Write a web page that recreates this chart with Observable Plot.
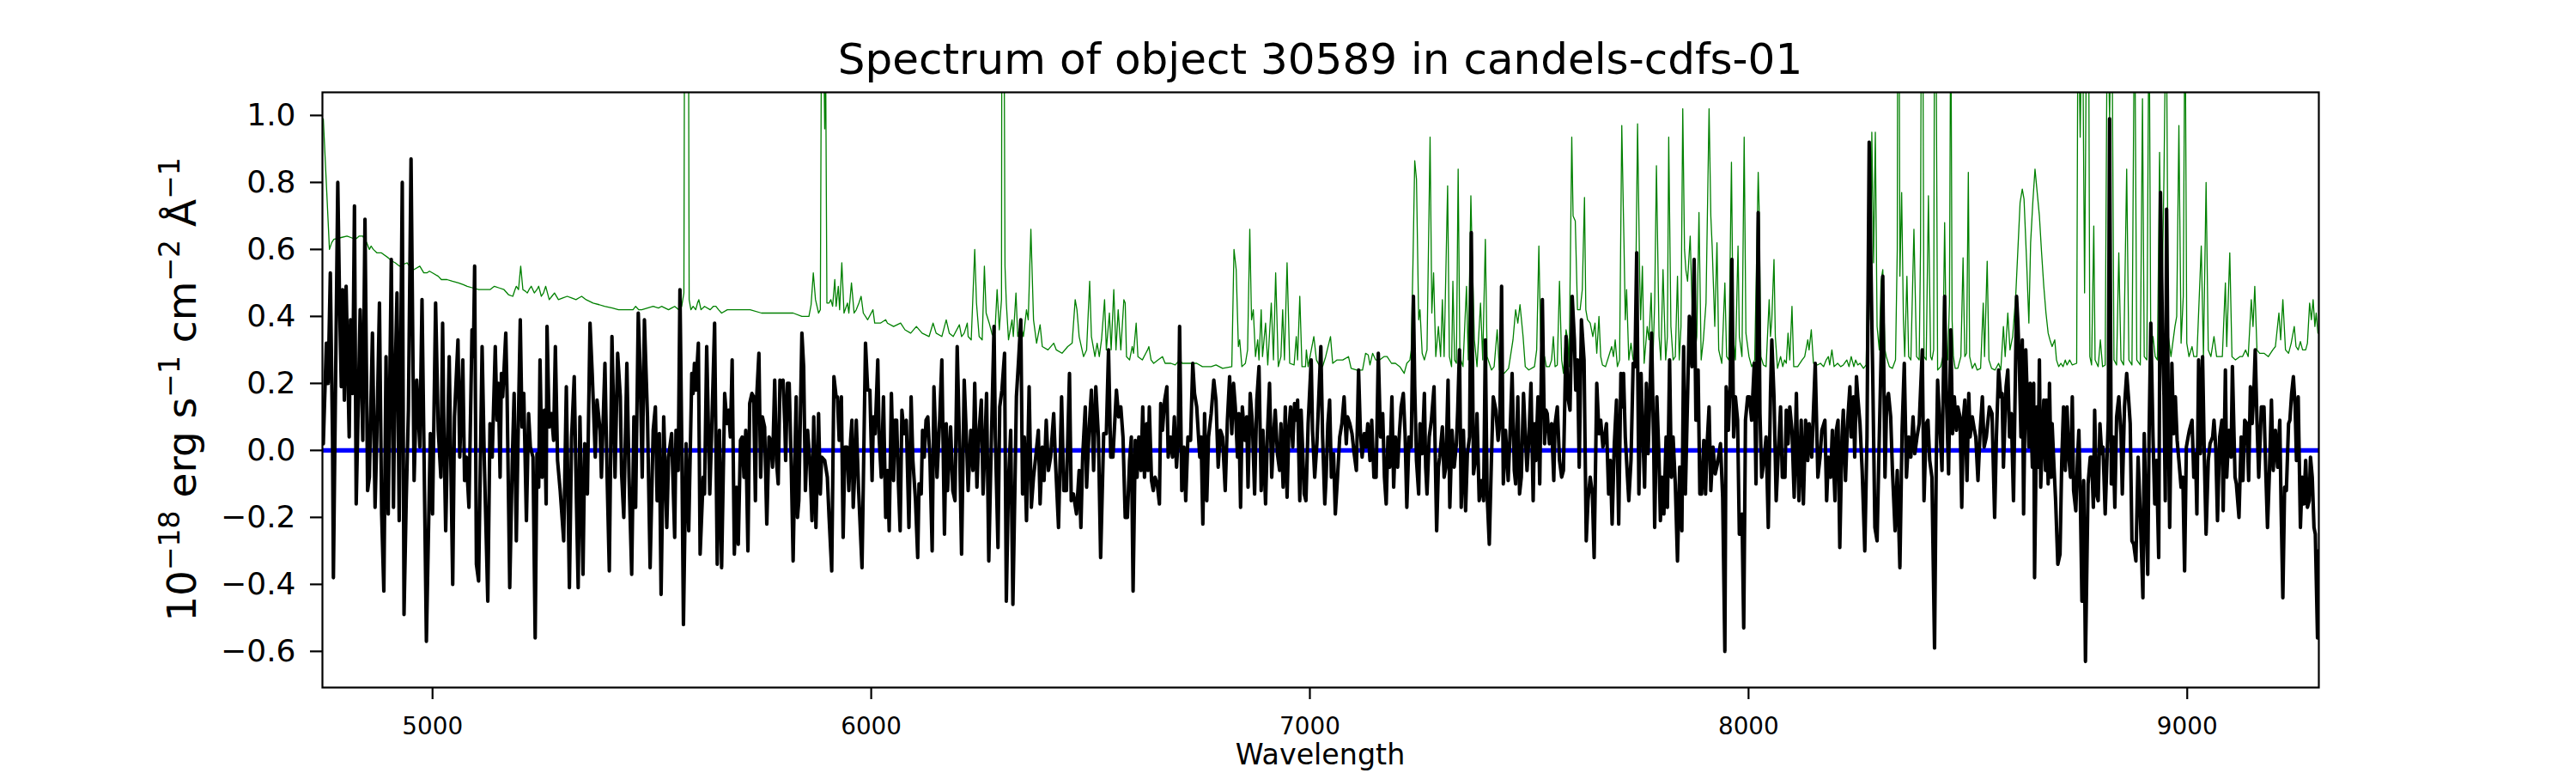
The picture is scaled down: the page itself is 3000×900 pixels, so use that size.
<!DOCTYPE html>
<html><head><meta charset="utf-8">
<script src="https://cdn.jsdelivr.net/npm/d3@7"></script>
<script src="https://cdn.jsdelivr.net/npm/@observablehq/plot@0.6"></script>
<style>html,body{margin:0;padding:0;background:#fff;}</style>
</head><body><div id="chart"></div>
<script>
// Science spectrum (black), [wavelength Å, flux 1e-18]
const sciSeg1 = [[4751,0.02],[4758,0.32],[4762,0.20],[4767,0.53],[4772,0.04],[4774,-0.38],[4784,0.80],[4788,0.45],[4792,0.19],[4795,0.48],[4799,0.15],[4803,0.49],[4810,0.04],[4813,0.39],[4818,0.17],[4822,0.73],[4826,-0.16],[4831,0.16],[4835,0.42],[4841,0.03],[4846,0.69],[4852,-0.12],[4856,-0.08],[4863,0.35],[4869,-0.17],[4873,0.04],[4879,0.44],[4884,-0.19],[4889,-0.42],[4894,0.28],[4899,-0.19],[4906,0.57],[4911,-0.17],[4914,0.17],[4919,0.47],[4924,-0.21],[4931,0.80],[4935,-0.49],[4940,-0.15],[4945,0.12],[4951,0.87],[4958,-0.09],[4964,0.21],[4971,0.01],[4976,0.45],[4981,-0.05],[4986,-0.57],[4995,0.05],[5000,-0.19],[5007,0.44],[5013,0.06],[5019,-0.08],[5023,0.38],[5026,0.05],[5030,-0.24],[5038,0.28],[5046,-0.40],[5050,0.10],[5058,0.33],[5062,-0.02],[5069,0.27],[5073,-0.09],[5077,-0.02],[5083,-0.17],[5090,0.36],[5093,0.28],[5096,0.55],[5100,-0.34],[5105,-0.39],[5113,0.31],[5118,-0.03],[5126,-0.45],[5131,0.08],[5136,-0.02],[5143,0.31],[5147,0.09],[5150,0.20],[5154,-0.08],[5157,0.23],[5160,0.16],[5167,0.35],[5170,0.16],[5176,-0.41],[5182,-0.02],[5186,0.17],[5191,-0.27],[5195,0.04],[5200,0.39],[5204,0.07],[5208,0.17],[5214,-0.21],[5219,0.11],[5223,0.01],[5229,-0.02],[5234,-0.56],[5238,-0.01],[5242,-0.11],[5245,0.27],[5250,-0.08],[5255,0.12],[5259,-0.16],[5261,0.37],[5266,0.07],[5271,0.11],[5276,0.03],[5280,0.31],[5285,-0.03],[5291,-0.12],[5299,-0.27],[5305,0.19],[5312,-0.41],[5317,0.04],[5323,0.22],[5328,-0.15],[5332,-0.41],[5336,0.10],[5343,-0.37],[5347,0.02],[5353,-0.13],[5359,0.38],[5364,0.23],[5371,-0.02],[5375,0.15],[5382,0.06],[5385,-0.08],[5393,0.26],[5398,-0.08],[5403,-0.36],[5409,0.34],[5416,-0.08],[5422,0.29],[5428,0.16],[5431,-0.07],[5436,-0.20],[5443,0.26],[5448,-0.08],[5454,-0.37],[5459,0.10],[5463,-0.17],[5469,0.41],[5473,0.25],[5478,-0.08],[5483,0.39],[5490,0.10],[5496,-0.35],[5503,0.06],[5508,0.13],[5512,-0.15],[5517,0.05],[5521,-0.43],[5527,0.10],[5534,-0.23],[5538,-0.02],[5545,0.05],[5552,-0.26],[5555,0.06],[5560,-0.06],[5564,0.48],[5568,0.04],[5572,-0.52],[5578,0.02],[5584,-0.24],[5591,0.23],[5594,0.17],[5597,0.26],[5600,0.18],[5606,0.32],[5610,-0.31],[5617,-0.08],[5620,-0.13],[5625,0.31],[5632,-0.13],[5636,0.04],[5643,0.38],[5649,-0.34],[5654,0.06],[5659,-0.35]];
const sciSeg2 = [[5666,0.17],[5671,0.08],[5675,0.12],[5679,0.04],[5683,0.27],[5688,-0.31],[5693,-0.11],[5697,-0.28],[5702,0.03],[5706,0.04],[5710,-0.08],[5714,0.06],[5719,-0.30],[5723,0.14],[5728,0.17],[5732,0.16],[5736,-0.15],[5739,0.16],[5744,0.29],[5748,-0.08],[5752,0.10],[5757,0.07],[5762,-0.22],[5767,0.04],[5771,0.03],[5775,-0.05],[5780,0.21],[5784,-0.03],[5788,-0.10],[5792,0.21],[5796,0.19],[5799,0.21],[5803,0.08],[5805,-0.03],[5809,0.20],[5813,0.20],[5818,-0.06],[5822,-0.33],[5827,0.04],[5829,0.16],[5832,-0.20],[5835,-0.15],[5842,0.35],[5846,0.25],[5850,-0.12],[5855,0.06],[5860,-0.03],[5865,-0.21],[5869,0.10],[5874,-0.23],[5880,0.11],[5884,-0.13],[5887,-0.02],[5894,-0.03],[5900,-0.08],[5904,-0.20],[5910,-0.36],[5915,0.22],[5920,0.16],[5923,0.16],[5927,0.03],[5932,0.16],[5936,-0.26],[5940,0.01],[5945,0.01],[5949,-0.12],[5953,0.03],[5956,0.09],[5959,-0.17],[5962,-0.08],[5966,0.09],[5971,-0.11],[5979,-0.35],[5987,0.32],[5992,0.18],[5997,0.18],[6002,-0.09],[6005,0.10],[6009,0.05],[6015,0.27],[6018,0.04],[6023,-0.08],[6028,0.16],[6033,-0.20],[6037,-0.06],[6041,-0.24],[6046,0.17],[6051,-0.09],[6054,0.09],[6058,0.09],[6062,-0.10],[6066,-0.24],[6070,0.12],[6075,0.05],[6080,0.09],[6086,-0.23],[6091,0.16],[6095,-0.03],[6101,-0.15],[6106,-0.32],[6109,-0.10],[6114,-0.13],[6117,0.06],[6121,-0.02],[6125,0.09],[6129,0.10],[6134,-0.03],[6139,-0.30],[6143,0.19],[6147,0.04],[6150,-0.08],[6156,0.09],[6161,0.27],[6167,-0.25],[6171,0.08],[6174,-0.12],[6181,0.07],[6186,-0.12],[6191,-0.15],[6196,0.31],[6202,-0.02],[6206,-0.31],[6212,0.21],[6217,0.04],[6221,-0.12],[6227,0.06],[6232,-0.06],[6236,0.20],[6241,-0.11],[6245,0.04],[6251,0.15],[6255,-0.13],[6259,0.01],[6263,0.17],[6268,-0.33],[6272,-0.08],[6280,0.37],[6283,0.04],[6289,-0.29],[6293,0.13],[6298,0.18],[6304,0.29],[6308,-0.45],[6313,-0.09],[6318,0.06],[6323,-0.46],[6328,-0.08],[6331,0.16],[6336,0.27],[6341,0.39],[6345,-0.13],[6349,0.04],[6354,-0.21],[6360,0.19],[6365,-0.17],[6370,-0.08],[6375,-0.02],[6381,0.06],[6385,-0.16],[6390,0.01],[6394,-0.09],[6399,0.09],[6404,-0.06],[6409,-0.02],[6416,0.11],[6420,-0.03],[6427,-0.23],[6434,0.16],[6439,-0.12],[6445,-0.12],[6452,0.23],[6456,-0.15],[6461,-0.13],[6468,-0.19],[6474,-0.06],[6478,-0.23],[6482,-0.02],[6488,0.13],[6491,-0.11],[6497,0.07],[6502,0.18],[6507,-0.06],[6512,0.19],[6518,0.04],[6523,-0.32],[6530,0.05],[6536,0.05],[6541,0.30],[6546,-0.02],[6551,-0.02],[6559,0.18],[6564,0.10],[6569,0.13],[6574,0.04],[6579,-0.20]];
const sciSeg3 = [[6584,-0.20],[6589,-0.03],[6593,0.04],[6597,-0.42],[6602,0.03],[6606,-0.08],[6610,0.04],[6615,-0.06],[6619,0.13],[6623,-0.08],[6628,0.08],[6631,-0.06],[6634,0.13],[6639,-0.09],[6643,-0.12],[6647,-0.08],[6652,-0.10],[6657,-0.16],[6660,0.14],[6664,0.06],[6669,0.15],[6674,0.19],[6677,-0.02],[6682,0.04],[6687,-0.02],[6691,0.10],[6696,-0.05],[6700,0.04],[6703,0.37],[6708,-0.12],[6713,0.01],[6717,-0.15],[6722,0.04],[6728,0.03],[6733,0.26],[6737,0.17],[6742,0.13],[6749,-0.02],[6752,0.04],[6756,-0.22],[6760,0.11],[6765,-0.15],[6769,0.04],[6775,0.11],[6781,0.21],[6786,0.15],[6791,-0.05],[6796,0.06],[6801,0.04],[6807,-0.12],[6812,0.09],[6817,0.22],[6822,0.05],[6826,0.20],[6830,0.13],[6835,-0.02],[6838,0.11],[6842,-0.17],[6846,0.13],[6852,0.03],[6856,0.10],[6859,-0.11],[6864,0.17],[6869,0.08],[6874,-0.13],[6879,0.15],[6884,0.25],[6889,-0.12],[6893,0.06],[6899,-0.16],[6903,0.04],[6908,0.20],[6913,-0.08],[6917,0.04],[6921,0.12],[6926,-0.01],[6931,-0.06],[6934,0.08],[6939,-0.11],[6944,0.13],[6948,-0.14],[6952,0.06],[6956,0.13],[6961,0.01],[6965,0.14],[6969,0.09],[6972,0.15],[6977,-0.15],[6980,0.12],[6983,0.02],[6987,-0.13],[6991,-0.15],[6996,0.08],[7003,0.27],[7006,0.06],[7011,-0.08],[7016,0.02],[7020,0.15],[7025,0.31],[7029,0.04],[7034,-0.16],[7037,-0.08],[7041,0.08],[7045,0.15],[7049,-0.08],[7054,-0.01],[7058,-0.19],[7063,-0.08],[7068,0.04],[7073,0.08],[7078,0.16],[7083,0.02],[7086,0.10],[7091,0.08],[7096,0.05],[7101,-0.01],[7106,-0.06],[7111,0.24],[7115,0.06],[7119,-0.02],[7124,0.05],[7128,0.01],[7132,0.08],[7137,-0.03],[7141,0.09],[7146,-0.08],[7151,-0.08],[7156,0.29],[7161,0.04],[7166,0.11],[7170,-0.08],[7174,-0.16],[7178,0.04],[7182,-0.05],[7187,0.16],[7191,-0.11],[7195,0.04],[7200,-0.05],[7204,0.05],[7208,0.13],[7213,0.17],[7217,0.05],[7221,-0.17],[7226,0.04],[7231,0.01],[7236,0.46],[7239,0.19],[7243,-0.03],[7248,-0.13],[7251,0.08],[7256,-0.01],[7261,0.17],[7264,-0.05],[7267,-0.13],[7272,0.04],[7277,0.09],[7283,0.19],[7289,-0.24],[7293,-0.05],[7296,-0.02],[7302,0.07],[7306,-0.08],[7310,-0.05],[7315,0.21],[7319,-0.17],[7324,0.06],[7329,-0.05],[7334,0.02],[7337,0.12],[7341,0.30],[7345,-0.17],[7350,0.06],[7355,-0.18],[7359,-0.01],[7364,0.04],[7368,0.65],[7373,-0.07],[7378,-0.02],[7381,0.11],[7386,-0.15],[7391,-0.09],[7396,-0.15],[7400,0.33],[7404,-0.13],[7409,-0.28],[7414,-0.02],[7418,0.16],[7424,0.12],[7429,0.03],[7433,0.08],[7437,0.49],[7441,-0.10],[7446,0.06],[7452,-0.09],[7456,0.04],[7461,0.23],[7466,-0.06],[7469,-0.10],[7474,0.16],[7478,-0.13],[7482,-0.08],[7487,0.17],[7492,0.02],[7495,-0.06],[7499,0.03]];
const sciSeg4 = [[7504,0.20],[7509,-0.15],[7512,0.08],[7515,-0.03],[7520,0.16],[7524,-0.10],[7527,0.18],[7530,0.45],[7535,0.02],[7538,0.12],[7541,0.11],[7546,0.02],[7551,0.08],[7556,-0.09],[7559,0.08],[7564,0.13],[7569,-0.03],[7574,-0.08],[7578,-0.06],[7584,0.34],[7588,0.16],[7593,0.12],[7598,0.46],[7603,0.33],[7606,0.18],[7610,0.27],[7614,-0.05],[7619,0.39],[7625,0.27],[7630,-0.27],[7634,-0.15],[7639,-0.08],[7644,-0.13],[7648,-0.32],[7654,0.20],[7659,0.05],[7663,0.09],[7668,0.01],[7672,0.04],[7676,0.08],[7681,-0.13],[7685,-0.03],[7689,-0.22],[7694,0.02],[7699,0.15],[7704,-0.22],[7709,0.23],[7713,0.13],[7715,0.23],[7719,0.04],[7724,-0.08],[7727,-0.15],[7732,-0.03],[7737,0.26],[7741,0.25],[7745,0.59],[7750,-0.13],[7755,0.23],[7758,0.09],[7763,-0.11],[7767,0.20],[7771,-0.01],[7775,0.16],[7779,0.35],[7784,-0.01],[7786,-0.23],[7791,0.16],[7796,-0.03],[7799,-0.21],[7803,-0.08],[7807,-0.19],[7812,0.04],[7815,-0.17],[7820,0.27],[7824,-0.08],[7828,0.04],[7833,-0.10],[7838,-0.33],[7843,-0.05],[7848,-0.24],[7852,0.31],[7856,-0.13],[7861,0.16],[7865,0.40],[7871,0.25],[7876,0.57],[7880,0.09],[7885,0.24],[7889,-0.13],[7893,-0.13],[7898,0.03],[7902,-0.13],[7906,0.03],[7910,0.13],[7914,-0.12],[7919,0.01],[7924,-0.07],[7929,-0.04],[7936,0.02],[7941,-0.14],[7946,-0.60],[7949,0.19],[7954,0.06],[7958,0.19],[7962,0.57],[7966,0.04],[7970,0.16],[7975,0.09],[7979,-0.25],[7985,-0.19],[7989,-0.53],[7993,0.09],[7998,0.16],[8002,0.16],[8007,0.09],[8013,0.26],[8017,-0.10],[8022,0.71],[8026,0.11],[8030,-0.08],[8035,-0.03],[8040,0.04],[8045,-0.23],[8050,0.17],[8053,0.33],[8058,0.16],[8063,-0.15],[8067,-0.03],[8073,0.13],[8077,-0.08],[8083,-0.08],[8086,0.12],[8090,0.02],[8094,0.13],[8099,0.06],[8104,-0.14],[8109,0.17],[8112,-0.03],[8115,-0.15],[8120,0.09],[8125,-0.16],[8130,0.09],[8135,-0.03],[8138,0.08],[8144,-0.02],[8152,0.26],[8158,-0.08],[8163,-0.02],[8167,0.06],[8174,0.09],[8178,-0.15],[8182,-0.02],[8187,-0.08],[8191,0.06],[8197,-0.15],[8200,0.06],[8204,0.09],[8208,-0.29],[8213,0.04],[8216,0.12],[8221,-0.09],[8226,0.09],[8231,0.19],[8234,0.04],[8239,0.16],[8242,-0.02],[8246,0.22],[8249,0.16],[8254,0.08],[8259,-0.06],[8265,-0.30],[8270,0.04],[8275,0.92],[8279,0.55],[8283,0.23],[8288,-0.23],[8293,-0.27],[8298,0.04],[8302,0.27],[8306,0.52],[8311,-0.08],[8315,0.15],[8319,0.17],[8324,0.10],[8328,-0.06],[8334,-0.24],[8339,-0.06],[8345,-0.35],[8350,0.06],[8355,0.26],[8360,-0.08],[8365,0.04],[8370,-0.02],[8375,0.10],[8379,-0.01],[8384,0.04],[8389,0.08],[8396,0.30],[8400,-0.15],[8405,0.08],[8409,0.09],[8413,-0.03]];
const sciSeg5 = [[8418,-0.08],[8424,-0.59],[8428,-0.02],[8431,0.21],[8437,0.05],[8441,-0.06],[8447,0.46],[8451,0.16],[8456,-0.07],[8461,0.36],[8465,0.05],[8469,0.16],[8474,0.06],[8477,0.13],[8482,0.10],[8486,-0.17],[8490,0.10],[8493,0.15],[8498,-0.09],[8502,0.17],[8505,0.04],[8510,0.10],[8515,0.06],[8518,0.04],[8523,-0.09],[8528,0.06],[8533,0.16],[8537,0.01],[8542,0.04],[8549,0.13],[8555,0.11],[8561,-0.20],[8565,0.04],[8570,0.24],[8575,0.16],[8578,0.17],[8581,-0.05],[8587,0.19],[8591,0.24],[8595,0.04],[8599,0.11],[8604,-0.15],[8611,0.46],[8614,0.38],[8617,0.27],[8621,0.04],[8624,0.33],[8627,-0.19],[8632,0.30],[8636,0.13],[8639,0.01],[8642,0.20],[8647,-0.05],[8650,0.20],[8652,-0.38],[8657,0.13],[8660,-0.05],[8663,0.27],[8666,-0.11],[8670,0.04],[8673,0.15],[8677,-0.06],[8679,0.15],[8683,-0.10],[8686,0.20],[8690,-0.08],[8692,0.08],[8696,-0.04],[8700,-0.15],[8705,-0.34],[8710,-0.31],[8714,-0.03],[8718,0.13],[8722,-0.06],[8726,0.13],[8730,-0.02],[8734,-0.08],[8738,0.16],[8741,-0.12],[8746,-0.18],[8750,-0.02],[8753,0.06],[8756,-0.12],[8760,-0.45],[8764,-0.09],[8768,-0.63],[8774,-0.10],[8779,-0.02],[8782,-0.02],[8786,-0.17],[8789,0.12],[8793,-0.13],[8797,-0.15],[8801,0.08],[8805,-0.01],[8808,0.01],[8813,-0.19],[8818,0.01],[8820,0.09],[8823,0.99],[8827,-0.10],[8831,0.04],[8835,-0.17],[8839,0.10],[8844,0.16],[8849,0.05],[8852,-0.13],[8857,0.13],[8862,0.23],[8866,0.16],[8870,0.08],[8874,-0.27],[8878,-0.28],[8883,-0.33],[8888,-0.02],[8893,-0.19],[8899,-0.44],[8902,0.05],[8906,-0.18],[8910,-0.37],[8913,0.04],[8917,0.38],[8922,0.04],[8926,-0.16],[8930,-0.03],[8935,-0.32],[8939,0.77],[8944,0.32],[8947,0.16],[8950,-0.15],[8953,0.72],[8957,0.10],[8960,-0.23],[8965,0.26],[8969,0.05],[8973,0.16],[8977,0.03],[8981,-0.03],[8986,-0.11],[8990,-0.08],[8994,-0.36],[8998,0.01],[9002,0.04],[9005,0.06],[9011,0.09],[9015,-0.08],[9019,-0.01],[9022,-0.19],[9026,0.27],[9030,-0.01],[9035,0.28],[9039,-0.02],[9043,-0.25],[9048,-0.03],[9052,0.02],[9058,0.04],[9061,0.09],[9065,0.01],[9069,-0.21],[9074,0.04],[9079,0.09],[9082,-0.18],[9087,0.24],[9090,-0.08],[9095,0.06],[9100,-0.02],[9103,0.25],[9109,-0.08],[9112,-0.10],[9118,-0.20],[9123,0.04],[9127,-0.09],[9131,0.09],[9136,0.08],[9140,-0.09],[9144,0.19],[9148,0.08],[9152,0.18],[9155,0.30],[9159,0.09],[9163,-0.08],[9169,0.13],[9175,0.13],[9179,-0.06],[9183,-0.23],[9187,-0.08],[9192,0.15],[9196,-0.06],[9201,0.06],[9206,-0.05],[9211,0.09],[9214,-0.17],[9218,-0.44],[9222,-0.11],[9226,-0.12],[9231,0.08],[9234,0.09],[9238,0.17],[9242,0.22],[9246,0.13],[9249,-0.03],[9253,0.16],[9258,-0.23],[9262,-0.08],[9266,-0.16],[9270,-0.03],[9274,-0.17],[9278,-0.15],[9281,-0.02],[9285,-0.08],[9289,-0.23],[9292,-0.25],[9297,-0.56],[9300,-0.30]];

// Noise / sky spectrum (green)
const noiseSeg1 = [[4751,0.99],[4765,0.60],[4770,0.62],[4775,0.63],[4790,0.635],[4805,0.64],[4815,0.635],[4824,0.63],[4833,0.64],[4841,0.64],[4850,0.62],[4856,0.60],[4860,0.61],[4865,0.60],[4873,0.59],[4883,0.59],[4899,0.575],[4908,0.565],[4915,0.56],[4925,0.55],[4933,0.555],[4942,0.56],[4950,0.545],[4958,0.54],[4971,0.55],[4980,0.53],[4987,0.53],[4993,0.535],[5000,0.53],[5013,0.52],[5020,0.51],[5033,0.51],[5045,0.505],[5059,0.50],[5070,0.495],[5079,0.49],[5092,0.485],[5105,0.48],[5118,0.48],[5131,0.48],[5141,0.49],[5152,0.485],[5163,0.48],[5173,0.465],[5183,0.46],[5188,0.48],[5191,0.49],[5196,0.48],[5201,0.55],[5206,0.48],[5212,0.475],[5216,0.47],[5220,0.48],[5225,0.49],[5232,0.47],[5238,0.48],[5242,0.49],[5248,0.46],[5253,0.47],[5258,0.49],[5266,0.45],[5272,0.46],[5278,0.47],[5287,0.45],[5297,0.455],[5307,0.46],[5317,0.455],[5327,0.45],[5333,0.455],[5340,0.46],[5350,0.45],[5366,0.44],[5380,0.435],[5392,0.43],[5410,0.425],[5424,0.42],[5440,0.42],[5457,0.42],[5463,0.43],[5470,0.42],[5477,0.42],[5490,0.425],[5503,0.43],[5515,0.425],[5522,0.43],[5538,0.42],[5545,0.425],[5552,0.43],[5561,0.42],[5568,0.43],[5573,0.47],[5575,1.6],[5583,1.6],[5585,0.45],[5589,0.42],[5594,0.43],[5600,0.42],[5604,0.44],[5607,0.45],[5612,0.42],[5620,0.43],[5633,0.42],[5640,0.43],[5646,0.43],[5652,0.42],[5659,0.41]];
const noiseSeg2 = [[5672,0.42],[5685,0.42],[5698,0.42],[5724,0.42],[5750,0.41],[5770,0.41],[5790,0.41],[5822,0.41],[5842,0.40],[5858,0.40],[5863,0.435],[5868,0.53],[5873,0.45],[5880,0.41],[5884,0.42],[5887,1.4],[5890,1.4],[5894,0.96],[5896,1.2],[5899,0.44],[5904,0.44],[5908,0.45],[5912,0.43],[5917,0.51],[5920,0.43],[5925,0.49],[5928,0.42],[5933,0.56],[5938,0.41],[5946,0.44],[5949,0.41],[5955,0.50],[5961,0.41],[5966,0.42],[5972,0.44],[5977,0.46],[5982,0.41],[5992,0.39],[6004,0.42],[6008,0.38],[6021,0.38],[6033,0.39],[6037,0.38],[6051,0.37],[6067,0.38],[6077,0.36],[6090,0.35],[6103,0.37],[6116,0.35],[6132,0.34],[6141,0.38],[6148,0.35],[6161,0.34],[6171,0.39],[6178,0.35],[6187,0.34],[6201,0.375],[6206,0.34],[6212,0.35],[6219,0.38],[6221,0.34],[6228,0.33],[6236,0.60],[6240,0.44],[6246,0.34],[6253,0.33],[6258,0.55],[6262,0.41],[6269,0.38],[6276,0.345],[6282,0.35],[6287,0.48],[6292,0.36],[6297,0.45],[6298,1.6],[6302,1.6],[6305,0.55],[6308,0.44],[6313,0.33],[6321,0.39],[6324,0.34],[6330,0.47],[6334,0.34],[6341,0.38],[6347,0.34],[6354,0.42],[6358,0.39],[6364,0.66],[6370,0.39],[6377,0.32],[6385,0.375],[6390,0.31],[6403,0.30],[6416,0.32],[6422,0.30],[6435,0.29],[6448,0.31],[6458,0.32],[6465,0.45],[6469,0.42],[6474,0.34],[6484,0.28],[6491,0.30],[6498,0.505],[6502,0.34],[6510,0.28],[6515,0.32],[6520,0.28],[6525,0.33],[6532,0.45],[6536,0.30],[6543,0.41],[6547,0.30],[6553,0.48],[6558,0.30],[6563,0.42],[6569,0.30],[6576,0.45],[6579,0.44]];
const noiseSeg3 = [[6582,0.28],[6589,0.27],[6595,0.31],[6598,0.29],[6604,0.38],[6608,0.28],[6618,0.27],[6626,0.29],[6630,0.30],[6633,0.31],[6638,0.27],[6644,0.26],[6654,0.27],[6664,0.28],[6670,0.26],[6683,0.26],[6693,0.255],[6703,0.27],[6709,0.26],[6719,0.26],[6730,0.26],[6742,0.26],[6755,0.25],[6775,0.25],[6786,0.255],[6801,0.245],[6822,0.25],[6827,0.60],[6832,0.54],[6837,0.31],[6840,0.33],[6845,0.25],[6853,0.26],[6858,0.30],[6863,0.66],[6867,0.39],[6871,0.42],[6876,0.28],[6881,0.33],[6884,0.27],[6889,0.42],[6892,0.28],[6899,0.38],[6904,0.255],[6912,0.44],[6917,0.27],[6922,0.53],[6928,0.25],[6934,0.28],[6938,0.42],[6942,0.27],[6948,0.56],[6954,0.26],[6964,0.255],[6969,0.34],[6972,0.27],[6977,0.46],[6982,0.25],[6990,0.25],[6992,0.30],[6996,0.25],[7009,0.34],[7015,0.27],[7023,0.25],[7029,0.25],[7036,0.28],[7047,0.34],[7052,0.26],[7062,0.27],[7075,0.27],[7088,0.28],[7094,0.245],[7107,0.24],[7120,0.24],[7127,0.29],[7133,0.285],[7137,0.255],[7143,0.29],[7150,0.27],[7159,0.27],[7169,0.28],[7176,0.28],[7186,0.26],[7195,0.26],[7205,0.25],[7215,0.23],[7221,0.26],[7228,0.27],[7231,0.30],[7235,0.56],[7239,0.865],[7243,0.81],[7248,0.39],[7251,0.42],[7256,0.29],[7261,0.27],[7267,0.30],[7274,0.935],[7278,0.41],[7282,0.53],[7287,0.28],[7293,0.37],[7298,0.28],[7302,0.45],[7306,0.28],[7314,0.79],[7318,0.28],[7323,0.25],[7326,0.505],[7330,0.27],[7334,0.26],[7338,0.84],[7342,0.28],[7349,0.25],[7357,0.49],[7361,0.27],[7367,0.76],[7369,0.64],[7375,0.33],[7381,0.25],[7389,0.44],[7394,0.27],[7400,0.63],[7404,0.28],[7414,0.24],[7420,0.25],[7427,0.36],[7432,0.24],[7443,0.23],[7453,0.245],[7463,0.33],[7469,0.42],[7474,0.38],[7479,0.435],[7486,0.34],[7491,0.25],[7499,0.24]];
const noiseSeg4 = [[7512,0.25],[7517,0.30],[7522,0.61],[7526,0.33],[7530,0.255],[7535,0.28],[7539,0.25],[7546,0.25],[7551,0.27],[7555,0.34],[7559,0.25],[7564,0.255],[7569,0.505],[7574,0.27],[7578,0.23],[7584,0.36],[7588,0.33],[7591,0.25],[7597,0.935],[7600,0.70],[7605,0.685],[7610,0.42],[7616,0.42],[7621,0.48],[7626,0.755],[7629,0.42],[7633,0.39],[7639,0.38],[7645,0.34],[7650,0.38],[7654,0.29],[7659,0.40],[7663,0.28],[7667,0.255],[7674,0.25],[7681,0.28],[7688,0.31],[7692,0.28],[7696,0.33],[7701,0.25],[7706,0.27],[7711,0.97],[7716,0.62],[7719,0.39],[7722,0.48],[7727,0.27],[7732,0.32],[7737,0.27],[7741,0.28],[7747,0.975],[7752,0.505],[7754,0.39],[7758,0.55],[7762,0.26],[7769,0.37],[7773,0.33],[7778,0.47],[7782,0.27],[7786,0.44],[7790,0.85],[7796,0.34],[7800,0.27],[7805,0.54],[7811,0.27],[7815,0.34],[7818,0.935],[7823,0.37],[7828,0.27],[7833,0.28],[7838,0.52],[7842,0.27],[7846,0.37],[7850,1.02],[7854,0.60],[7857,0.54],[7861,0.505],[7867,0.64],[7872,0.39],[7877,0.28],[7882,0.34],[7887,0.71],[7892,0.27],[7897,0.33],[7903,0.44],[7910,1.02],[7914,0.70],[7917,0.61],[7923,0.37],[7928,0.62],[7932,0.30],[7939,0.26],[7946,0.50],[7950,0.28],[7955,0.27],[7961,0.86],[7965,0.34],[7970,0.27],[7976,0.61],[7979,0.34],[7985,0.28],[7990,0.935],[7994,0.35],[8001,0.28],[8007,0.25],[8014,0.27],[8022,0.83],[8024,0.73],[8028,0.28],[8034,0.255],[8040,0.25],[8047,0.45],[8050,0.34],[8053,0.39],[8058,0.57],[8061,0.34],[8066,0.245],[8073,0.28],[8078,0.25],[8082,0.27],[8086,0.26],[8090,0.35],[8094,0.27],[8099,0.43],[8103,0.25],[8112,0.25],[8122,0.27],[8128,0.28],[8135,0.33],[8138,0.30],[8143,0.36],[8148,0.26],[8157,0.255],[8164,0.26],[8171,0.25],[8177,0.27],[8182,0.28],[8185,0.255],[8190,0.30],[8195,0.25],[8203,0.26],[8210,0.25],[8216,0.255],[8224,0.27],[8229,0.25],[8234,0.28],[8240,0.25],[8244,0.27],[8249,0.255],[8254,0.26],[8262,0.245],[8268,0.255],[8272,0.55],[8275,0.92],[8278,0.39],[8281,0.95],[8285,0.56],[8289,0.95],[8293,0.37],[8298,0.30],[8302,0.505],[8306,0.54],[8311,0.30],[8314,0.28],[8321,0.25],[8328,0.245],[8335,0.27],[8339,0.6],[8340,1.4],[8343,1.4],[8345,0.52],[8349,0.77],[8353,0.39],[8356,0.28],[8361,0.52],[8365,0.28],[8370,0.27],[8377,0.66],[8383,0.28],[8389,0.27],[8392,0.6],[8394,1.4],[8397,1.4],[8400,0.28],[8405,0.27],[8410,0.76],[8415,0.28],[8418,0.27]];
const noiseSeg5 = [[8422,0.3],[8424,1.4],[8427,1.4],[8431,0.24],[8438,0.25],[8443,0.28],[8447,0.68],[8451,0.28],[8454,0.27],[8458,0.44],[8461,1.4],[8464,0.39],[8467,0.28],[8471,0.245],[8477,0.245],[8484,0.28],[8489,0.575],[8493,0.28],[8497,0.29],[8501,0.83],[8504,0.28],[8510,0.245],[8516,0.26],[8521,0.24],[8529,0.245],[8535,0.44],[8538,0.28],[8544,0.565],[8548,0.27],[8554,0.245],[8562,0.24],[8570,0.26],[8575,0.24],[8581,0.37],[8585,0.28],[8591,0.41],[8596,0.30],[8602,0.34],[8609,0.46],[8614,0.60],[8619,0.74],[8624,0.78],[8628,0.75],[8634,0.56],[8639,0.38],[8643,0.62],[8648,0.74],[8653,0.84],[8658,0.77],[8663,0.70],[8668,0.59],[8673,0.49],[8678,0.41],[8683,0.35],[8687,0.33],[8692,0.31],[8698,0.33],[8702,0.27],[8707,0.25],[8712,0.26],[8717,0.25],[8722,0.27],[8726,0.255],[8732,0.27],[8738,0.255],[8748,0.26],[8751,1.4],[8756,0.935],[8761,1.4],[8766,0.47],[8771,1.4],[8775,1.4],[8778,0.28],[8782,0.255],[8787,0.67],[8790,0.27],[8797,0.25],[8802,0.33],[8807,0.25],[8813,0.255],[8818,1.4],[8823,0.99],[8828,1.4],[8833,0.27],[8839,0.255],[8844,0.59],[8849,0.27],[8855,0.255],[8862,0.84],[8867,0.27],[8874,0.255],[8880,1.4],[8885,0.27],[8893,0.255],[8898,1.05],[8902,0.28],[8908,0.27],[8913,1.4],[8917,0.28],[8922,0.34],[8927,0.28],[8932,0.27],[8937,0.89],[8942,0.39],[8947,0.82],[8952,1.4],[8957,0.34],[8963,0.28],[8972,0.37],[8976,0.40],[8981,0.97],[8986,0.32],[8991,0.46],[8995,1.4],[8999,0.32],[9004,0.28],[9011,0.31],[9015,0.28],[9022,0.28],[9032,0.61],[9037,0.28],[9043,0.80],[9048,0.30],[9054,0.28],[9061,0.34],[9067,0.28],[9074,0.28],[9080,0.28],[9087,0.50],[9090,0.31],[9097,0.59],[9102,0.28],[9110,0.27],[9120,0.28],[9126,0.28],[9133,0.30],[9139,0.28],[9146,0.45],[9150,0.37],[9154,0.49],[9159,0.30],[9165,0.29],[9175,0.29],[9185,0.28],[9195,0.30],[9201,0.31],[9209,0.41],[9213,0.33],[9218,0.45],[9224,0.30],[9231,0.29],[9237,0.32],[9244,0.37],[9248,0.31],[9253,0.30],[9258,0.325],[9263,0.30],[9270,0.30],[9274,0.32],[9279,0.44],[9283,0.39],[9287,0.45],[9291,0.37],[9294,0.41],[9298,0.35]];

const xTicks = [5000, 6000, 7000, 8000, 9000];
const yTicks = [-0.6, -0.4, -0.2, 0.0, 0.2, 0.4, 0.6, 0.8, 1.0];
const titleText = "Spectrum of object 30589 in candels-cdfs-01";
const xLabelText = "Wavelength";

const rows = (segs) => segs.flat().map(([w, f]) => ({w, f}));
const sci = rows([sciSeg1, sciSeg2, sciSeg3, sciSeg4, sciSeg5]);
const noise = rows([noiseSeg1, noiseSeg2, noiseSeg3, noiseSeg4, noiseSeg5]);

const chart = Plot.plot({
  width: 3000,
  height: 900,
  marginLeft: 375,
  marginRight: 300,
  marginTop: 107,
  marginBottom: 100,
  style: {fontFamily: "DejaVu Sans", background: "white", color: "black", overflow: "visible"},
  x: {domain: [4749, 9300]},
  y: {domain: [-0.708, 1.069]},
  marks: [
    Plot.line(noise, {x: "w", y: "f", stroke: "#008000", strokeWidth: 1.3, clip: true}),
    Plot.ruleY([0], {stroke: "#0000ff", strokeWidth: 5.2}),
    Plot.line(sci, {x: "w", y: "f", stroke: "black", strokeWidth: 4.1, clip: true}),
    Plot.frame({stroke: "black", strokeWidth: 2.2}),
    Plot.axisX(xTicks, {tickFormat: d => String(d), tickSize: 14, tickPadding: 21, fontSize: 27.8, strokeWidth: 2.2, label: null}),
    Plot.axisY(yTicks, {tickFormat: d => d.toFixed(1).replace("-", "\u2212"), tickSize: 14, tickPadding: 17, fontSize: 36, strokeWidth: 2.2, label: null})
  ]
});

const svg = d3.select(chart);
svg.append("text")
  .attr("x", 1537.5).attr("y", 86)
  .attr("text-anchor", "middle")
  .attr("font-size", 50)
  .attr("fill", "black")
  .text(titleText);
svg.append("text")
  .attr("x", 1537.5).attr("y", 890)
  .attr("text-anchor", "middle")
  .attr("font-size", 33.3)
  .attr("fill", "black")
  .text(xLabelText);

const yl = svg.append("text")
  .attr("transform", "translate(228,453.5) rotate(-90)")
  .attr("text-anchor", "middle")
  .attr("font-size", 47)
  .attr("fill", "black");
const parts = [["10", false], ["\u221218", true], [" erg s", false], ["\u22121", true], [" cm", false], ["\u22122", true], [" \u00C5", false], ["\u22121", true]];
let raised = false;
for (const [t, sup] of parts) {
  const ts = yl.append("tspan").text(t);
  if (sup) { ts.attr("font-size", 33).attr("dy", raised ? 0 : -19); raised = true; }
  else { ts.attr("dy", raised ? 19 : 0); raised = false; }
}

document.getElementById("chart").appendChild(chart);
</script>
</body></html>
